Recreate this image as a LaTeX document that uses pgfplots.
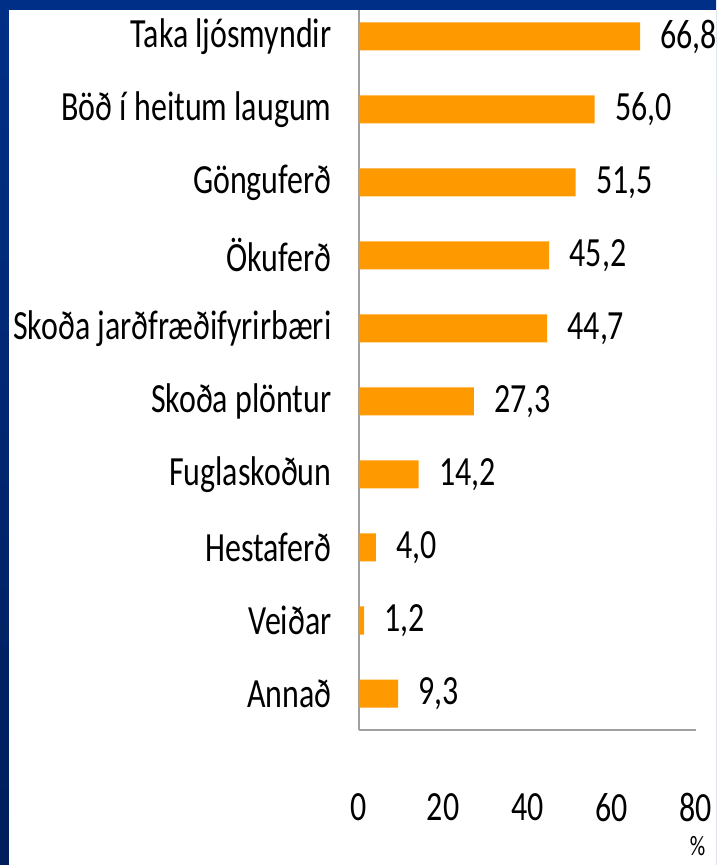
\documentclass[border=0pt]{standalone}
\usepackage{pgfplots}
\pgfplotsset{compat=1.18}
\usepackage{fontspec}
\setmainfont{Carlito}[FakeStretch=0.77]
\definecolor{bandtop}{HTML}{002F87}
\definecolor{bandbot}{HTML}{001E5A}
\definecolor{barorange}{HTML}{FF9900}
\definecolor{axgray}{HTML}{A0A0A0}
\begin{document}
\begin{tikzpicture}[x=1pt,y=1pt]
\useasboundingbox (0,0) rectangle (716,865);
\clip (0,0) rectangle (716,865);
\shade[top color=bandtop, bottom color=bandbot] (0,0) rectangle (716,865);
\fill[white] (9,0) rectangle (716,855);
\begin{axis}[
  at={(359pt,135pt)}, anchor=south west,
  scale only axis,
  width=336.6pt, height=730pt,
  xmin=0, xmax=80,
  ymin=0.5, ymax=10.5,
  xbar, bar width=28pt,
  axis lines*=left,
  axis line style={axgray, line width=1.2pt},
  xtick={0,20,40,60,80},
  ytick={1,...,10},
  yticklabels={Annað,Veiðar,Hestaferð,Fuglaskoðun,Skoða plöntur,Skoða jarðfræðifyrirbæri,Ökuferð,Gönguferð,Böð í heitum laugum,Taka ljósmyndir},
  major tick length=0pt,
  tick style={draw=none},
  /pgf/number format/assume math mode=true,
  font=\fontsize{41.5}{48}\selectfont,
  xticklabel style={yshift=-60pt},
  yticklabel style={xshift=-24pt},
  nodes near coords={\pgfmathprintnumber[fixed,fixed zerofill,precision=1,use comma,assume math mode=true]{\pgfplotspointmeta}},
  nodes near coords style={anchor=west, xshift=17pt, font=\fontsize{41.5}{48}\selectfont, text=black},
  clip=false,
]
\addplot[fill=barorange, draw=none] coordinates {
  (9.3,1) (1.2,2) (4.0,3) (14.2,4) (27.3,5) (44.7,6) (45.2,7) (51.5,8) (56.0,9) (66.8,10)
};
\node[font=\fontsize{28}{32}\selectfont, anchor=center, inner sep=1pt] at (axis cs:80,0.5) [yshift=-116pt, xshift=2pt] {\%};
\end{axis}
\fill[bandtop] (0,855) rectangle (716,865);
\end{tikzpicture}
\end{document}
